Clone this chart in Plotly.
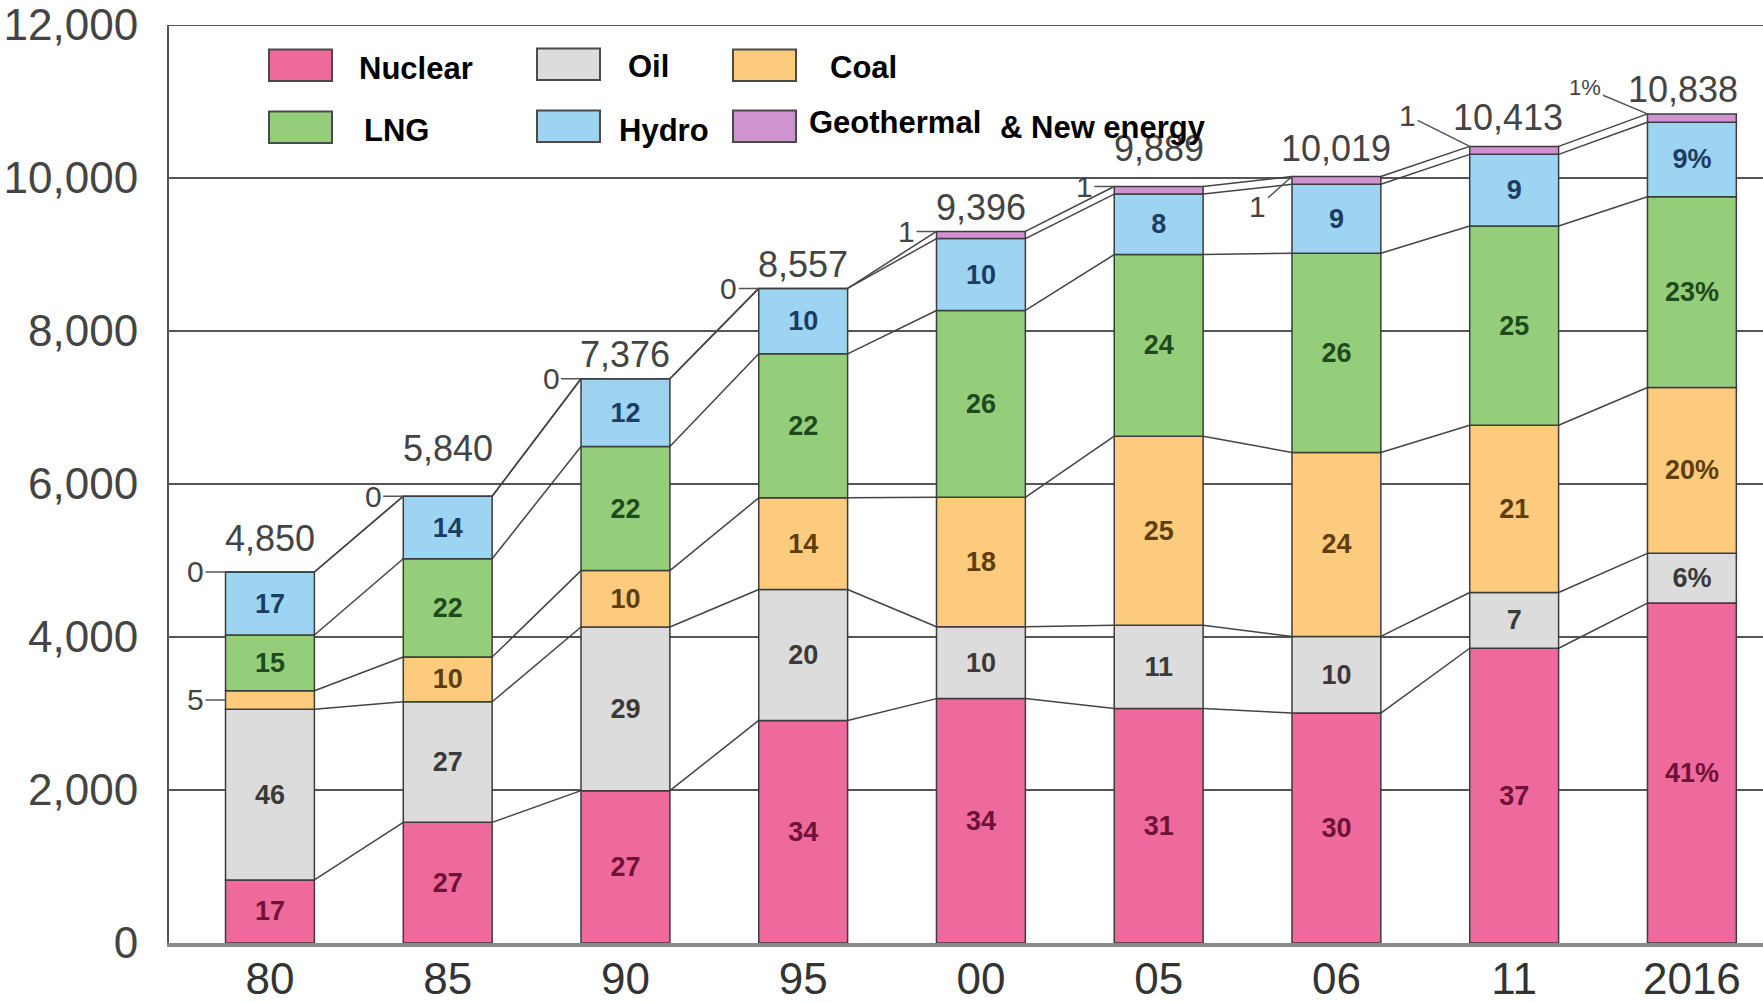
import plotly.graph_objects as go

# ---------------- data ----------------
years = ["80", "85", "90", "95", "00", "05", "06", "11", "2016"]
totals = [4850, 5840, 7376, 8557, 9396, 9889, 10019, 10413, 10838]
nuclear = [17, 27, 27, 34, 34, 31, 30, 37, 41]
oil = [46, 27, 29, 20, 10, 11, 10, 7, 6]
coal = [5, 10, 10, 14, 18, 25, 24, 21, 20]
lng = [15, 22, 22, 22, 26, 24, 26, 25, 23]
hydro = [17, 14, 12, 10, 10, 8, 9, 9, 9]
geo = [0, 0, 0, 0, 1, 1, 1, 1, 1]
y_ticks = [0, 2000, 4000, 6000, 8000, 10000, 12000]

series_names = ["Nuclear", "Oil", "Coal", "LNG", "Hydro", "Geothermal & New energy"]
series_shares = [nuclear, oil, coal, lng, hydro, geo]

# ---------------- style ----------------
FONT = "Liberation Sans, Arial, sans-serif"
fill_colors = ["#EE6A9C", "#DCDCDC", "#FDCB7E", "#94CE7A", "#9DD4F2", "#CF93CF"]
text_colors = ["#6E1238", "#3A3A3A", "#5E3E0C", "#1E4A1E", "#1C3D63", "#444444"]
OUTLINE = "#3C3C3C"
GRID = "#555555"
BAR_W = 0.5
W, H = 1763, 1003
L, R, T, B = 169, 0, 25, 45
PW, PH = W - L - R, H - T - B

x = list(range(len(years)))

fig = go.Figure()

# stacked segments
cum = [0.0] * len(years)
boundaries = []
segments_all = []
for si, (name, shares) in enumerate(zip(series_names, series_shares)):
    seg = [t * s / 100.0 for t, s in zip(totals, shares)]
    segments_all.append(seg)
    base = cum[:]
    texts = []
    for i, s in enumerate(shares):
        if si == 5 or (si == 2 and i == 0):
            texts.append("")
        else:
            texts.append(f"{s}%" if years[i] == "2016" else f"{s}")
    fig.add_trace(go.Bar(
        x=x, y=seg, base=base, width=BAR_W, name=name,
        marker=dict(color=fill_colors[si], line=dict(color=OUTLINE, width=1.5)),
        text=texts, textposition="inside", insidetextanchor="middle",
        textangle=0, constraintext="none",
        textfont=dict(family=FONT, size=27, color=text_colors[si], weight="bold"),
        hoverinfo="skip", showlegend=False,
    ))
    cum = [c + v for c, v in zip(cum, seg)]
    boundaries.append(cum[:])

# connector lines between bars at each boundary
for bnd in boundaries:
    lx, ly = [], []
    for i in range(len(years) - 1):
        lx += [x[i] + BAR_W / 2, x[i + 1] - BAR_W / 2, None]
        ly += [bnd[i], bnd[i + 1], None]
    fig.add_trace(go.Scatter(x=lx, y=ly, mode="lines",
                             line=dict(color="#444444", width=1.5),
                             hoverinfo="skip", showlegend=False))

tops = boundaries[-1]

# total labels
label_yshift = [33, 48, 24, 24, 24, 38, 28, 29, 24]
label_xshift = [0, 0, 0, 0, 0, 0, 0, -6, -9]
for i, t in enumerate(totals):
    fig.add_annotation(x=x[i], y=tops[i], text=f"{t:,}", showarrow=False,
                       yanchor="middle", yshift=label_yshift[i], xshift=label_xshift[i],
                       font=dict(family=FONT, size=36, color="#444444"))

# leader labels for tiny shares
coal_mid = [boundaries[1][i] + segments_all[2][i] / 2 for i in range(len(years))]
leaders = [
    (0, tops[0], "0", -30, 0, 30),
    (0, coal_mid[0], "5", -30, 0, 30),
    (1, tops[1], "0", -30, 0, 30),
    (2, tops[2], "0", -30, 0, 30),
    (3, tops[3], "0", -30, 0, 30),
    (4, tops[4], "1", -30, 0, 30),
    (5, tops[5], "1", -30, 0, 30),
    (6, tops[6], "1", -34, 30, 30),
    (7, tops[7], "1", -62, -31, 30),
    (8, tops[8], "1%", -62, -26, 22),
]
for i, yy, txt, ax, ay, fs in leaders:
    fig.add_annotation(x=x[i] - BAR_W / 2, y=yy, text=txt, showarrow=True,
                       arrowhead=0, arrowwidth=1.5, arrowcolor="#555555",
                       ax=ax, ay=ay, standoff=0, startstandoff=0,
                       font=dict(family=FONT, size=fs, color="#444444"))

# custom legend (positions given in page pixels)
def px(v):
    return (v - L) / PW

def py(v):
    return (H - B - v) / PH

legend_boxes = [
    (269, 50, 0), (537, 49, 1), (733, 50, 2),
    (269, 113, 3), (537, 112, 4), (733, 112, 5),
]
shapes = []
for bx, by, si in legend_boxes:
    shapes.append(dict(type="rect", xref="paper", yref="paper",
                       x0=px(bx), x1=px(bx + 63), y0=py(by + 32), y1=py(by),
                       fillcolor=fill_colors[si], line=dict(color="#4a4a4a", width=2)))
legend_texts = [
    ("Nuclear", 357, 69), ("Oil", 626, 67), ("Coal", 828, 68),
    ("LNG", 362, 132), ("Hydro", 617, 132), ("Geothermal", 807, 124),
    ("& New energy", 998, 129),
]
for txt, tx, ty in legend_texts:
    fig.add_annotation(xref="paper", yref="paper", x=px(tx), y=py(ty), text=txt,
                       showarrow=False, xanchor="left", yanchor="middle",
                       font=dict(family=FONT, size=31, color="#000000", weight="bold"))

# top frame line at 12,000
shapes.append(dict(type="line", xref="paper", yref="y", x0=0, x1=1,
                   y0=y_ticks[-1], y1=y_ticks[-1], line=dict(color=GRID, width=2),
                   layer="below"))

fig.update_layout(
    width=W, height=H,
    margin=dict(l=L, r=R, t=T, b=B),
    plot_bgcolor="white", paper_bgcolor="white",
    barmode="overlay", showlegend=False,
    shapes=shapes,
    font=dict(family=FONT),
    xaxis=dict(
        range=[-0.568, len(years) - 1 + 0.40],
        tickmode="array", tickvals=x, ticktext=years,
        tickfont=dict(family=FONT, size=44, color="#333333"),
        showgrid=False, zeroline=False, ticks="",
        showline=True, linecolor="#8A8A8A", linewidth=4,
        ticklabelstandoff=-6, ticklabeloverflow="allow",
    ),
    yaxis=dict(
        range=[0, 12000], tickmode="array", tickvals=y_ticks,
        tickformat=",", tickfont=dict(family=FONT, size=44, color="#444444"),
        showgrid=True, gridcolor=GRID, gridwidth=2,
        zeroline=False, ticks="", showline=True, linecolor=GRID, linewidth=2,
        ticklabelstandoff=20, ticklabeloverflow="allow",
    ),
)

fig.write_html(
    "out.html",
    config={"displayModeBar": False},
    post_script="document.body.style.margin='0';document.body.style.overflow='hidden';",
)
